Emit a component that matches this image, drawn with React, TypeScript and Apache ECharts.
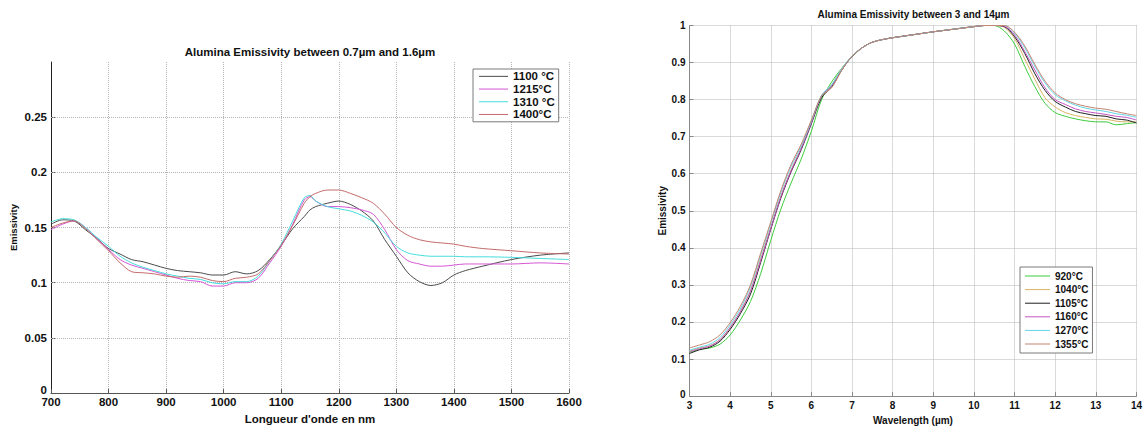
import { useEffect, useRef } from 'react';
import * as echarts from 'echarts';

// ---------- Left chart data (0.7–1.6 µm) ----------
const LEFT_WL = [700, 720, 740, 760, 780, 800, 820, 840, 860, 880, 900, 920, 940, 960, 980, 1000, 1020, 1040, 1060, 1080, 1100, 1120, 1140, 1150, 1160, 1180, 1200, 1220, 1240, 1260, 1280, 1300, 1320, 1340, 1360, 1380, 1400, 1420, 1450, 1500, 1550, 1600];
const L_1100 = [0.153, 0.157, 0.156, 0.148, 0.140, 0.131, 0.126, 0.121, 0.119, 0.116, 0.113, 0.111, 0.110, 0.109, 0.107, 0.107, 0.110, 0.108, 0.111, 0.121, 0.134, 0.149, 0.160, 0.166, 0.169, 0.172, 0.174, 0.171, 0.165, 0.156, 0.139, 0.124, 0.109, 0.101, 0.0975, 0.100, 0.107, 0.111, 0.115, 0.121, 0.125, 0.127];
const L_1215 = [0.148, 0.153, 0.156, 0.150, 0.140, 0.130, 0.121, 0.116, 0.113, 0.110, 0.107, 0.104, 0.102, 0.101, 0.097, 0.097, 0.100, 0.100, 0.104, 0.118, 0.133, 0.153, 0.175, 0.178, 0.174, 0.169, 0.169, 0.168, 0.166, 0.162, 0.148, 0.130, 0.120, 0.117, 0.115, 0.115, 0.116, 0.117, 0.117, 0.117, 0.118, 0.117];
const L_1310 = [0.155, 0.158, 0.157, 0.150, 0.141, 0.133, 0.124, 0.118, 0.114, 0.111, 0.108, 0.106, 0.104, 0.103, 0.100, 0.099, 0.101, 0.101, 0.106, 0.120, 0.135, 0.156, 0.177, 0.179, 0.174, 0.169, 0.167, 0.165, 0.161, 0.155, 0.145, 0.133, 0.127, 0.125, 0.124, 0.124, 0.124, 0.1235, 0.1235, 0.123, 0.122, 0.121];
const L_1400 = [0.150, 0.154, 0.156, 0.149, 0.139, 0.129, 0.118, 0.110, 0.109, 0.108, 0.106, 0.105, 0.106, 0.105, 0.102, 0.101, 0.104, 0.105, 0.108, 0.120, 0.134, 0.152, 0.172, 0.178, 0.181, 0.184, 0.184, 0.181, 0.177, 0.172, 0.162, 0.150, 0.143, 0.139, 0.137, 0.136, 0.135, 0.133, 0.131, 0.129, 0.127, 0.126];
const LEFT_NAMES = ['1100 °C', '1215°C', '1310 °C', '1400°C'];
const LEFT_COLORS = ['#4a4a4a', '#d455d4', '#45dcdc', '#c46a6a'];
const LEFT_Y_GRID = [0.05, 0.1, 0.15, 0.2, 0.25];

// ---------- Right chart data (3–14 µm) ----------
const RIGHT_WL = [3, 3.25, 3.5, 3.75, 4, 4.25, 4.5, 4.75, 5, 5.25, 5.5, 5.75, 6, 6.25, 6.5, 6.75, 7, 7.25, 7.5, 7.75, 8, 8.5, 9, 9.5, 10, 10.25, 10.5, 10.75, 11, 11.25, 11.5, 11.75, 12, 12.25, 12.5, 12.75, 13, 13.25, 13.5, 13.75, 14];
const R_920 = [0.118, 0.126, 0.130, 0.140, 0.165, 0.205, 0.255, 0.330, 0.420, 0.505, 0.575, 0.640, 0.715, 0.800, 0.848, 0.885, 0.915, 0.940, 0.955, 0.962, 0.967, 0.975, 0.983, 0.990, 0.997, 1.0, 1.0, 0.985, 0.950, 0.890, 0.835, 0.790, 0.765, 0.755, 0.748, 0.743, 0.740, 0.740, 0.732, 0.735, 0.738];
const R_1040 = [0.122, 0.130, 0.136, 0.152, 0.185, 0.228, 0.285, 0.370, 0.455, 0.540, 0.610, 0.670, 0.740, 0.810, 0.840, 0.885, 0.917, 0.940, 0.955, 0.962, 0.967, 0.975, 0.983, 0.990, 0.997, 1.0, 1.0, 0.995, 0.965, 0.910, 0.855, 0.805, 0.780, 0.765, 0.757, 0.752, 0.748, 0.747, 0.742, 0.740, 0.740];
const R_1105 = [0.115, 0.125, 0.132, 0.148, 0.180, 0.222, 0.275, 0.360, 0.450, 0.535, 0.605, 0.665, 0.735, 0.805, 0.835, 0.880, 0.917, 0.940, 0.955, 0.962, 0.967, 0.975, 0.983, 0.990, 0.997, 1.0, 1.0, 0.997, 0.970, 0.925, 0.870, 0.825, 0.795, 0.780, 0.768, 0.762, 0.757, 0.755, 0.748, 0.745, 0.737];
const R_1160 = [0.120, 0.128, 0.135, 0.152, 0.185, 0.227, 0.283, 0.365, 0.452, 0.538, 0.608, 0.668, 0.738, 0.810, 0.838, 0.882, 0.917, 0.940, 0.955, 0.962, 0.967, 0.975, 0.983, 0.990, 0.997, 1.0, 1.0, 0.998, 0.975, 0.930, 0.880, 0.832, 0.800, 0.787, 0.775, 0.768, 0.764, 0.760, 0.755, 0.752, 0.745];
const R_1270 = [0.124, 0.132, 0.140, 0.158, 0.192, 0.235, 0.295, 0.380, 0.465, 0.550, 0.620, 0.675, 0.742, 0.812, 0.840, 0.884, 0.918, 0.940, 0.955, 0.962, 0.967, 0.975, 0.983, 0.990, 0.997, 1.0, 1.0, 1.0, 0.980, 0.940, 0.890, 0.845, 0.813, 0.797, 0.785, 0.777, 0.772, 0.768, 0.762, 0.758, 0.752];
const R_1355 = [0.130, 0.138, 0.147, 0.165, 0.198, 0.242, 0.300, 0.385, 0.470, 0.555, 0.625, 0.680, 0.745, 0.810, 0.832, 0.880, 0.917, 0.940, 0.955, 0.962, 0.967, 0.975, 0.983, 0.990, 0.997, 1.0, 1.0, 1.0, 0.982, 0.945, 0.895, 0.850, 0.818, 0.800, 0.789, 0.782, 0.777, 0.774, 0.768, 0.762, 0.757];
const RIGHT_NAMES = ['920°C', '1040°C', '1105°C', '1160°C', '1270°C', '1355°C'];
const RIGHT_COLORS = ['#3ccc3c', '#d8b464', '#1e1e1e', '#c455c4', '#64d4e6', '#c48470'];

const FONT = '"Liberation Sans", Arial, sans-serif';

const fmtY = (v: number) => (v === 0 ? '{z|0}' : String(+v.toFixed(2)));
const fmtX = (v: number) => String(+v.toFixed(2));

function pairs(xs: number[], ys: number[]) {
  return xs.map((x, i) => [x, ys[i]]);
}

export default function App() {
  const ref = useRef<HTMLDivElement>(null);

  useEffect(() => {
    const chart = echarts.init(ref.current!, null, { renderer: 'svg' });

    const leftSeries = [L_1100, L_1215, L_1310, L_1400].map((ys, i) => ({
      type: 'line',
      name: LEFT_NAMES[i],
      xAxisIndex: 0,
      yAxisIndex: 0,
      data: pairs(LEFT_WL, ys),
      showSymbol: false,
      symbol: 'none',
      smooth: 0.3,
      z: 3,
      lineStyle: { color: LEFT_COLORS[i], width: 1 },
      itemStyle: { color: LEFT_COLORS[i] },
      ...(i === 0
        ? {
            markLine: {
              silent: true,
              symbol: ['none', 'none'],
              label: { show: false },
              emphasis: { disabled: true },
              z: 1,
              lineStyle: { type: 'dotted', color: '#b4b4b4', width: 1 },
              data: LEFT_Y_GRID.map((v) => ({ yAxis: v })),
            },
          }
        : {}),
    }));

    const rightSeries = [R_920, R_1040, R_1105, R_1160, R_1270, R_1355].map((ys, i) => ({
      type: 'line',
      name: RIGHT_NAMES[i],
      xAxisIndex: 1,
      yAxisIndex: 1,
      data: pairs(RIGHT_WL, ys),
      showSymbol: false,
      symbol: 'none',
      smooth: 0.3,
      z: 3,
      lineStyle: { color: RIGHT_COLORS[i], width: 1 },
      itemStyle: { color: RIGHT_COLORS[i] },
    }));

    const gridDotted = { show: true, lineStyle: { type: 'dotted', color: '#b4b4b4', width: 1 } };

    const option: any = {
      animation: false,
      backgroundColor: '#ffffff',
      textStyle: { fontFamily: FONT },
      graphic: [
        {
          type: 'text',
          x: 310,
          y: 52,
          style: {
            text: 'Alumina Emissivity between 0.7µm and 1.6µm',
            textAlign: 'center',
            textVerticalAlign: 'middle',
            font: `bold 11.5px ${FONT}`,
            fill: '#111',
          },
        },
        {
          type: 'text',
          x: 913.5,
          y: 14,
          style: {
            text: 'Alumina Emissivity between 3 and 14µm',
            textAlign: 'center',
            textVerticalAlign: 'middle',
            font: `bold 10px ${FONT}`,
            fill: '#111',
          },
        },
      ],
      grid: [
        { left: 51, right: 576, top: 62, bottom: 27, containLabel: false },
        { left: 689.5, right: 7.5, top: 25.5, bottom: 27.5, containLabel: false },
      ],
      legend: [
        {
          data: LEFT_NAMES,
          orient: 'vertical',
          left: 473,
          top: 69,
          padding: [1, 4, 1, 6],
          itemGap: 0,
          itemWidth: 29,
          itemHeight: 1,
          icon: 'rect',
          backgroundColor: '#fff',
          borderColor: '#7a7a7a',
          borderWidth: 1,
          selectedMode: false,
          textStyle: { fontSize: 11.5, fontWeight: 'bold', color: '#111', lineHeight: 12.7, fontFamily: FONT },
        },
        {
          data: RIGHT_NAMES,
          orient: 'vertical',
          left: 1020,
          top: 267,
          padding: [2.2, 4, 2.2, 5],
          itemGap: 0,
          itemWidth: 25,
          itemHeight: 1,
          icon: 'rect',
          backgroundColor: '#fff',
          borderColor: '#7a7a7a',
          borderWidth: 1,
          selectedMode: false,
          textStyle: { fontSize: 10, fontWeight: 'bold', color: '#111', lineHeight: 13.6, fontFamily: FONT },
        },
      ],
      xAxis: [
        {
          type: 'value',
          gridIndex: 0,
          min: 700,
          max: 1600,
          interval: 100,
          name: "Longueur d'onde en nm",
          nameLocation: 'middle',
          nameGap: 14,
          nameTextStyle: { fontSize: 11.5, fontWeight: 'bold', color: '#111', fontFamily: FONT },
          axisLine: { show: true, lineStyle: { color: '#555', width: 1 } },
          axisTick: { show: true, inside: true, length: 4, lineStyle: { color: '#555' } },
          axisLabel: { fontSize: 11.5, fontWeight: 'bold', color: '#111', margin: 3, formatter: fmtX, fontFamily: FONT },
          splitLine: gridDotted,
        },
        {
          type: 'value',
          gridIndex: 1,
          min: 3,
          max: 14,
          interval: 1,
          name: 'Wavelength (µm)',
          nameLocation: 'middle',
          nameGap: 15,
          nameTextStyle: { fontSize: 10, fontWeight: 'bold', color: '#111', fontFamily: FONT },
          axisLine: { show: true, lineStyle: { color: '#888', width: 1 } },
          axisTick: { show: true, inside: true, length: 4, lineStyle: { color: '#888' } },
          axisLabel: { fontSize: 10, fontWeight: 'bold', color: '#111', margin: 4, formatter: fmtX, fontFamily: FONT },
          splitLine: gridDotted,
        },
      ],
      yAxis: [
        {
          type: 'value',
          gridIndex: 0,
          min: 0,
          max: 0.3,
          interval: 0.05,
          name: 'Emissivity',
          nameLocation: 'middle',
          nameGap: 33,
          nameTextStyle: { fontSize: 9.5, fontWeight: 'bold', color: '#111', fontFamily: FONT },
          axisLine: { show: true, lineStyle: { color: '#222', width: 1 } },
          axisTick: { show: true, inside: true, length: 4, lineStyle: { color: '#555' } },
          axisLabel: {
            fontSize: 11.5,
            fontWeight: 'bold',
            color: '#111',
            margin: 4,
            showMaxLabel: false,
            formatter: fmtY,
            fontFamily: FONT,
            rich: { z: { fontSize: 11.5, fontWeight: 'bold', color: '#111', fontFamily: FONT, padding: [0, 0, 6, 0] } },
          },
          splitLine: { show: false },
        },
        {
          type: 'value',
          gridIndex: 1,
          min: 0,
          max: 1,
          interval: 0.1,
          name: 'Emissivity',
          nameLocation: 'middle',
          nameGap: 22,
          nameTextStyle: { fontSize: 10, fontWeight: 'bold', color: '#111', fontFamily: FONT },
          axisLine: { show: true, lineStyle: { color: '#888', width: 1 } },
          axisTick: { show: true, inside: true, length: 4, lineStyle: { color: '#888' } },
          axisLabel: {
            fontSize: 10,
            fontWeight: 'bold',
            color: '#111',
            margin: 4,
            formatter: fmtY,
            fontFamily: FONT,
            rich: { z: { fontSize: 10, fontWeight: 'bold', color: '#111', fontFamily: FONT, padding: [0, 0, 3, 0] } },
          },
          splitLine: gridDotted,
        },
      ],
      series: [...leftSeries, ...rightSeries],
    };

    chart.setOption(option);
    return () => chart.dispose();
  }, []);

  return (
    <div
      ref={ref}
      style={{ position: 'fixed', left: 0, top: 0, width: 1145, height: 430, background: '#fff' }}
    />
  );
}
